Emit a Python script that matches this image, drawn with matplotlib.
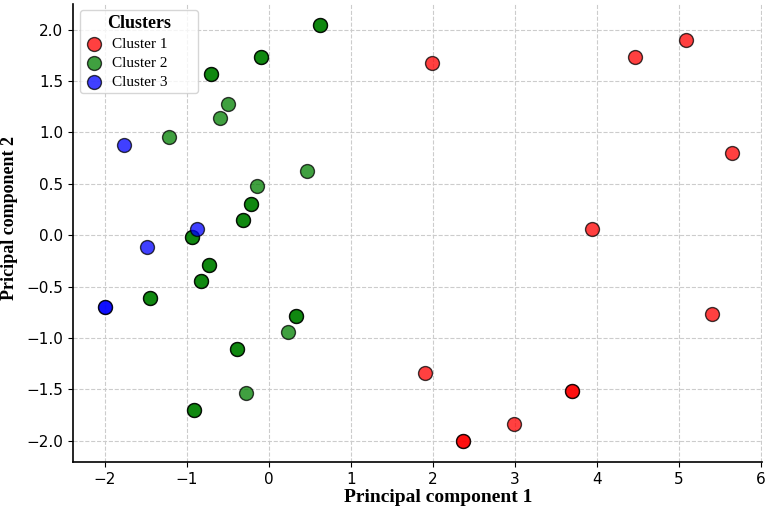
import matplotlib
matplotlib.use('Agg')
import matplotlib.pyplot as plt
import numpy as np

# cluster points (duplicates are points drawn twice)
c1_x = [1.99, 4.46, 5.09, 5.65, 3.94, 5.40, 1.91, 3.70, 3.70, 2.99, 2.37, 2.37]
c1_y = [1.68, 1.73, 1.90, 0.80, 0.06, -0.77, -1.34, -1.52, -1.52, -1.84, -2.00, -2.00]

c2_x = [0.63, 0.63, -0.09, -0.09, -0.70, -0.70, -0.50, -0.60, -1.22, 0.46, -0.15,
        -0.22, -0.22, -0.32, -0.32, -0.94, -0.94, -0.73, -0.73, -0.83, -0.83,
        -1.45, -1.45, 0.33, 0.33, 0.23, -0.39, -0.39, -0.28, -0.91, -0.91]
c2_y = [2.05, 2.05, 1.73, 1.73, 1.57, 1.57, 1.28, 1.14, 0.96, 0.63, 0.48,
        0.30, 0.30, 0.15, 0.15, -0.02, -0.02, -0.29, -0.29, -0.45, -0.45,
        -0.61, -0.61, -0.79, -0.79, -0.94, -1.11, -1.11, -1.54, -1.70, -1.70]

c3_x = [-1.77, -0.87, -1.49, -2.00, -2.00]
c3_y = [0.88, 0.06, -0.11, -0.70, -0.70]

labels = ['Cluster 1', 'Cluster 2', 'Cluster 3']
colors = ['red', 'green', 'blue']

serif = ['Liberation Serif', 'DejaVu Serif']

fig, ax = plt.subplots(figsize=(7.67, 5.08), dpi=100)
fig.subplots_adjust(left=0.095, right=0.993, top=0.992, bottom=0.09)

data = [(c1_x, c1_y), (c2_x, c2_y), (c3_x, c3_y)]
for (xs, ys), lab, col in zip(data, labels, colors):
    ax.scatter(xs, ys, s=100, c=col, alpha=0.75, edgecolors='black',
               linewidths=1.0, label=lab, zorder=3)

ax.set_xlim(-2.39, 6.01)
ax.set_ylim(-2.21, 2.25)
ax.set_xticks(np.arange(-2, 7, 1))
ax.set_yticks(np.arange(-2.0, 2.5, 0.5))
ax.tick_params(labelsize=11)
ax.grid(True, linestyle='--', color='#cccccc', linewidth=0.8, zorder=0)
ax.spines['top'].set_visible(False)
ax.spines['right'].set_visible(False)
ax.spines['left'].set_linewidth(1.2)
ax.spines['bottom'].set_linewidth(1.2)

ax.set_xlabel('Principal component 1', fontsize=14, fontweight='bold', family=serif)
ax.set_ylabel('Pricipal component 2', fontsize=13, fontweight='bold', family=serif)
ax.xaxis.set_label_coords(0.531, -0.058)
ax.yaxis.set_label_coords(-0.080, 0.533)

leg = ax.legend(title='Clusters', loc='upper left', prop={'family': serif, 'size': 11},
                title_fontproperties={'family': serif, 'size': 13, 'weight': 'bold'},
                bbox_to_anchor=(0.0102, 0.0, 0.171, 0.987), mode='expand',
                borderaxespad=0, borderpad=0.3, handlelength=1.2, handletextpad=0.6,
                labelspacing=0.35, fancybox=True)

plt.savefig('out.png', dpi=100)
plt.close()
